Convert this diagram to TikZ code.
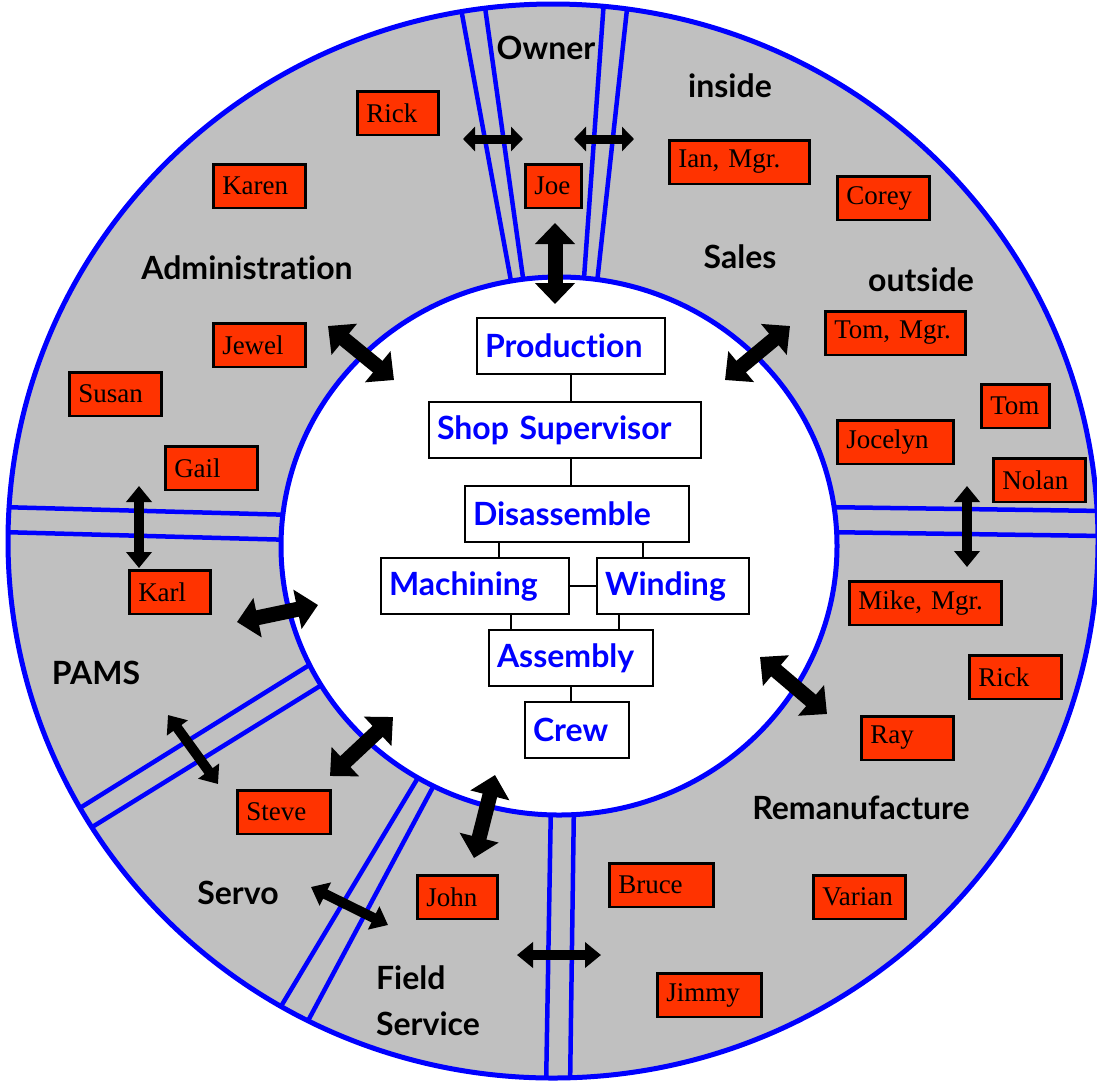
\documentclass[tikz,border=0pt]{standalone}
\usepackage{fontspec}
\usepackage{tikz}
\usetikzlibrary{arrows.meta}
\setmainfont{Liberation Serif}
\newfontfamily\handfont{Lato}[Ligatures=NoCommon]

\definecolor{ringgray}{HTML}{C0C0C0}
\definecolor{namered}{HTML}{FF3300}
\definecolor{deptblue}{HTML}{0000FF}

\begin{document}
\begin{tikzpicture}[x=1pt,y=-1pt,
    person/.style={draw=black,line width=2.5pt,fill=namered,anchor=north west,
                   inner xsep=9pt,inner ysep=0pt,minimum height=43.5pt,align=left,
                   text width=#1,font=\fontsize{27}{28}\selectfont},
    unit/.style={draw=black,line width=2pt,fill=white,anchor=north west,
                 inner xsep=8pt,inner ysep=0pt,minimum height=56pt,align=left,
                 text width=#1,text=deptblue,
                 font=\handfont\bfseries\fontsize{32}{36}\selectfont},
    dept/.style={font=\handfont\bfseries\fontsize{32}{46}\selectfont,align=left},
    link/.style={line width=2pt},
    divider/.style={draw=deptblue,line width=4.5pt},
    bigarrow/.style={line width=15pt,
                     {Triangle[length=21pt,width=39pt]}-{Triangle[length=21pt,width=39pt]}},
    midarrow/.style={line width=10pt,
                     {Triangle[length=16pt,width=25pt]}-{Triangle[length=16pt,width=25pt]}},
    smallarrow/.style={line width=9pt,
                       {Triangle[length=12pt,width=24pt]}-{Triangle[length=12pt,width=24pt]}}]
  \useasboundingbox[fill=white] (0,0) rectangle (1097,1080);

  % ring
  \fill[ringgray] (553,541) ellipse [x radius=545pt,y radius=537pt];
  \begin{scope}
    \clip (553,541) ellipse [x radius=545pt,y radius=537pt];
    \draw[divider] (460,3) -- (513,292);   \draw[divider] (484,0) -- (525,292);
    \draw[divider] (604,0) -- (583,292);   \draw[divider] (628,0) -- (596,292);
    \draw[divider] (820,507) -- (1105,511); \draw[divider] (820,532) -- (1105,536);
    \draw[divider] (0,507) -- (295,515);   \draw[divider] (0,532) -- (295,540);
    \draw[divider] (59,821) -- (327,654);  \draw[divider] (68,842) -- (341,673);
    \draw[divider] (268,1028) -- (425,766); \draw[divider] (294,1047) -- (441,772);
    \draw[divider] (551,800) -- (546,1090); \draw[divider] (574,800) -- (570,1090);
  \end{scope}
  \fill[white] (559,546) ellipse [x radius=278pt,y radius=269pt];
  \draw[deptblue,line width=5pt] (553,541) ellipse [x radius=545pt,y radius=537pt];
  \draw[deptblue,line width=5pt] (559,546) ellipse [x radius=278pt,y radius=269pt];

  % departments
  \node[dept] (owner)   at (546,48)  {Owner};
  \node[dept] (inside)  at (730,86)  {inside};
  \node[dept] (admin)   at (247,268) {Administration};
  \node[dept] (sales)   at (740,257) {Sales};
  \node[dept] (outside) at (921,280) {outside};
  \node[dept] (pams)    at (96,673)  {PAMS};
  \node[dept] (servo)   at (238,893) {Servo};
  \node[dept] (field)   at (428,1001) {Field\\Service};
  \node[dept] (reman)   at (861,808) {Remanufacture};

  % people
  \node[person=63pt]  (rickA)   at (356,90)  {Rick};
  \node[person=74pt]  (karen)   at (212,163) {Karen};
  \node[person=74pt]  (jewel)   at (212,322) {Jewel};
  \node[person=74pt]  (susan)   at (68,371)  {Susan};
  \node[person=74pt]  (gail)    at (164,445) {Gail};
  \node[person=38pt]  (joe)     at (524,163) {Joe};
  \node[person=122pt] (ian)     at (668,139) {Ian, Mgr.};
  \node[person=74pt]  (corey)   at (836,175) {Corey};
  \node[person=122pt] (tomM)    at (824,310) {Tom, Mgr.};
  \node[person=50pt]  (tom)     at (980,383) {Tom};
  \node[person=98pt]  (jocelyn) at (836,419) {Jocelyn};
  \node[person=74pt]  (nolan)   at (992,457) {Nolan};
  \node[person=63pt]  (karl)    at (128,569) {Karl};
  \node[person=75pt]  (steve)   at (236,789) {Steve};
  \node[person=62pt]  (john)    at (416,874) {John};
  \node[person=134pt] (mike)    at (848,580) {Mike, Mgr.};
  \node[person=74pt]  (rickB)   at (968,654) {Rick};
  \node[person=74pt]  (ray)     at (860,715) {Ray};
  \node[person=86pt]  (bruce)   at (608,862) {Bruce};
  \node[person=74pt]  (varian)  at (812,874) {Varian};
  \node[person=86pt]  (jimmy)   at (656,972) {Jimmy};

  % shop
  \node[unit=172pt] (prod) at (476,317) {Production};
  \node[unit=256pt] (sup)  at (428,401) {Shop Supervisor};
  \node[unit=208pt] (dis)  at (464,485) {Disassemble};
  \node[unit=172pt] (mach) at (380,557) {Machining};
  \node[unit=136pt] (wind) at (596,557) {Winding};
  \node[unit=148pt] (asm)  at (488,629) {Assembly};
  \node[unit=88pt]  (crew) at (524,701) {Crew};

  \draw[link] (prod) -- (prod |- sup.north);
  \draw[link] (sup.south -| prod) -- (dis.north -| prod);
  \draw[link] ([xshift=35pt]dis.south west) -- ([xshift=35pt]dis.south west |- mach.north);
  \draw[link] ([xshift=-47pt]dis.south east) -- ([xshift=-47pt]dis.south east |- wind.north);
  \draw[link] (mach.east) -- (wind.west);
  \draw[link] ([xshift=23pt]asm.north west) -- ([xshift=23pt]asm.north west |- mach.south);
  \draw[link] ([xshift=-35pt]asm.north east) -- ([xshift=-35pt]asm.north east |- wind.south);
  \draw[link] (asm) -- (asm |- crew.north);

  % arrows
  \coordinate (up1) at (555,223);  \coordinate (up2) at (555,304);
  \coordinate (ol1) at (463,139);  \coordinate (ol2) at (523,139);
  \coordinate (or1) at (574,139);  \coordinate (or2) at (634,139);
  \coordinate (ad1) at (328,326);  \coordinate (ad2) at (394,380);
  \coordinate (sa1) at (790,326);  \coordinate (sa2) at (725,380);
  \coordinate (lv1) at (139,486);  \coordinate (lv2) at (139,568);
  \coordinate (rv1) at (967,486);  \coordinate (rv2) at (967,567);
  \coordinate (pa1) at (237,622);  \coordinate (pa2) at (318,605);
  \coordinate (ps1) at (168,715);  \coordinate (ps2) at (218,784);
  \coordinate (se1) at (330,776);  \coordinate (se2) at (393,717);
  \coordinate (fs1) at (495,775);  \coordinate (fs2) at (474,858);
  \coordinate (sf1) at (311,887);  \coordinate (sf2) at (388,925);
  \coordinate (fr1) at (517,955);  \coordinate (fr2) at (601,955);
  \coordinate (re1) at (760,657);  \coordinate (re2) at (827,714);

  \draw[bigarrow]   (up1) -- (up2);
  \draw[smallarrow] (ol1) -- (ol2);
  \draw[smallarrow] (or1) -- (or2);
  \draw[bigarrow]   (ad1) -- (ad2);
  \draw[bigarrow]   (sa1) -- (sa2);
  \draw[midarrow]   (lv1) -- (lv2);
  \draw[midarrow]   (rv1) -- (rv2);
  \draw[bigarrow]   (pa1) -- (pa2);
  \draw[midarrow]   (ps1) -- (ps2);
  \draw[bigarrow]   (se1) -- (se2);
  \draw[bigarrow]   (fs1) -- (fs2);
  \draw[midarrow]   (sf1) -- (sf2);
  \draw[midarrow]   (fr1) -- (fr2);
  \draw[bigarrow]   (re1) -- (re2);
\end{tikzpicture}
\end{document}
